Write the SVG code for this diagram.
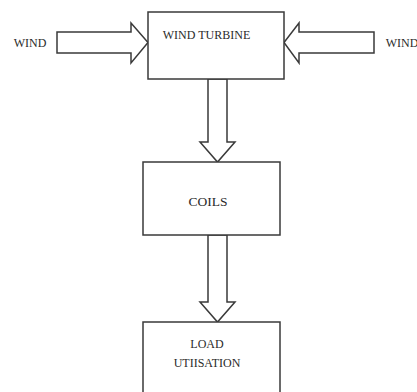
<svg xmlns="http://www.w3.org/2000/svg" width="417" height="392" viewBox="0 0 417 392">
<style>
.box{fill:#fff;stroke:#3a3a3a;stroke-width:1.5}
.arr{fill:#fff;stroke:#3a3a3a;stroke-width:1.5;stroke-linejoin:miter}
</style>
<rect width="417" height="392" fill="#fff"/>
<g id="connectors">
<polygon class="arr" points="57,32 131,32 131,23 148,42.5 131,63 131,53 57,53"/>
<polygon class="arr" points="374,32 299,32 299,23 284,42.5 299,63 299,53 374,53"/>
<polygon class="arr" points="208,79 227,79 227,142 235,142 217.5,162 200,142 208,142"/>
<polygon class="arr" points="208,235 227,235 227,302 235,302 217.5,322 200,302 208,302"/>
</g>
<g font-family="Liberation Serif, Times New Roman, serif" font-size="12" fill="#2a2a2a" text-anchor="middle">
<g id="wind-left"><text x="30" y="47">WIND</text></g>
<g id="wind-right"><text x="402" y="47">WIND</text></g>
<g id="wind-turbine">
<rect class="box" x="148" y="12" width="136" height="67"/>
<text x="206.5" y="39">WIND TURBINE</text>
</g>
<g id="coils">
<rect class="box" x="143" y="162" width="137" height="73"/>
<text x="208" y="206" font-size="13.5">COILS</text>
</g>
<g id="load">
<rect class="box" x="143" y="322" width="137" height="80"/>
<text x="207" y="348">LOAD</text>
<text x="207" y="367">UTIISATION</text>
</g>
</g>
</svg>
